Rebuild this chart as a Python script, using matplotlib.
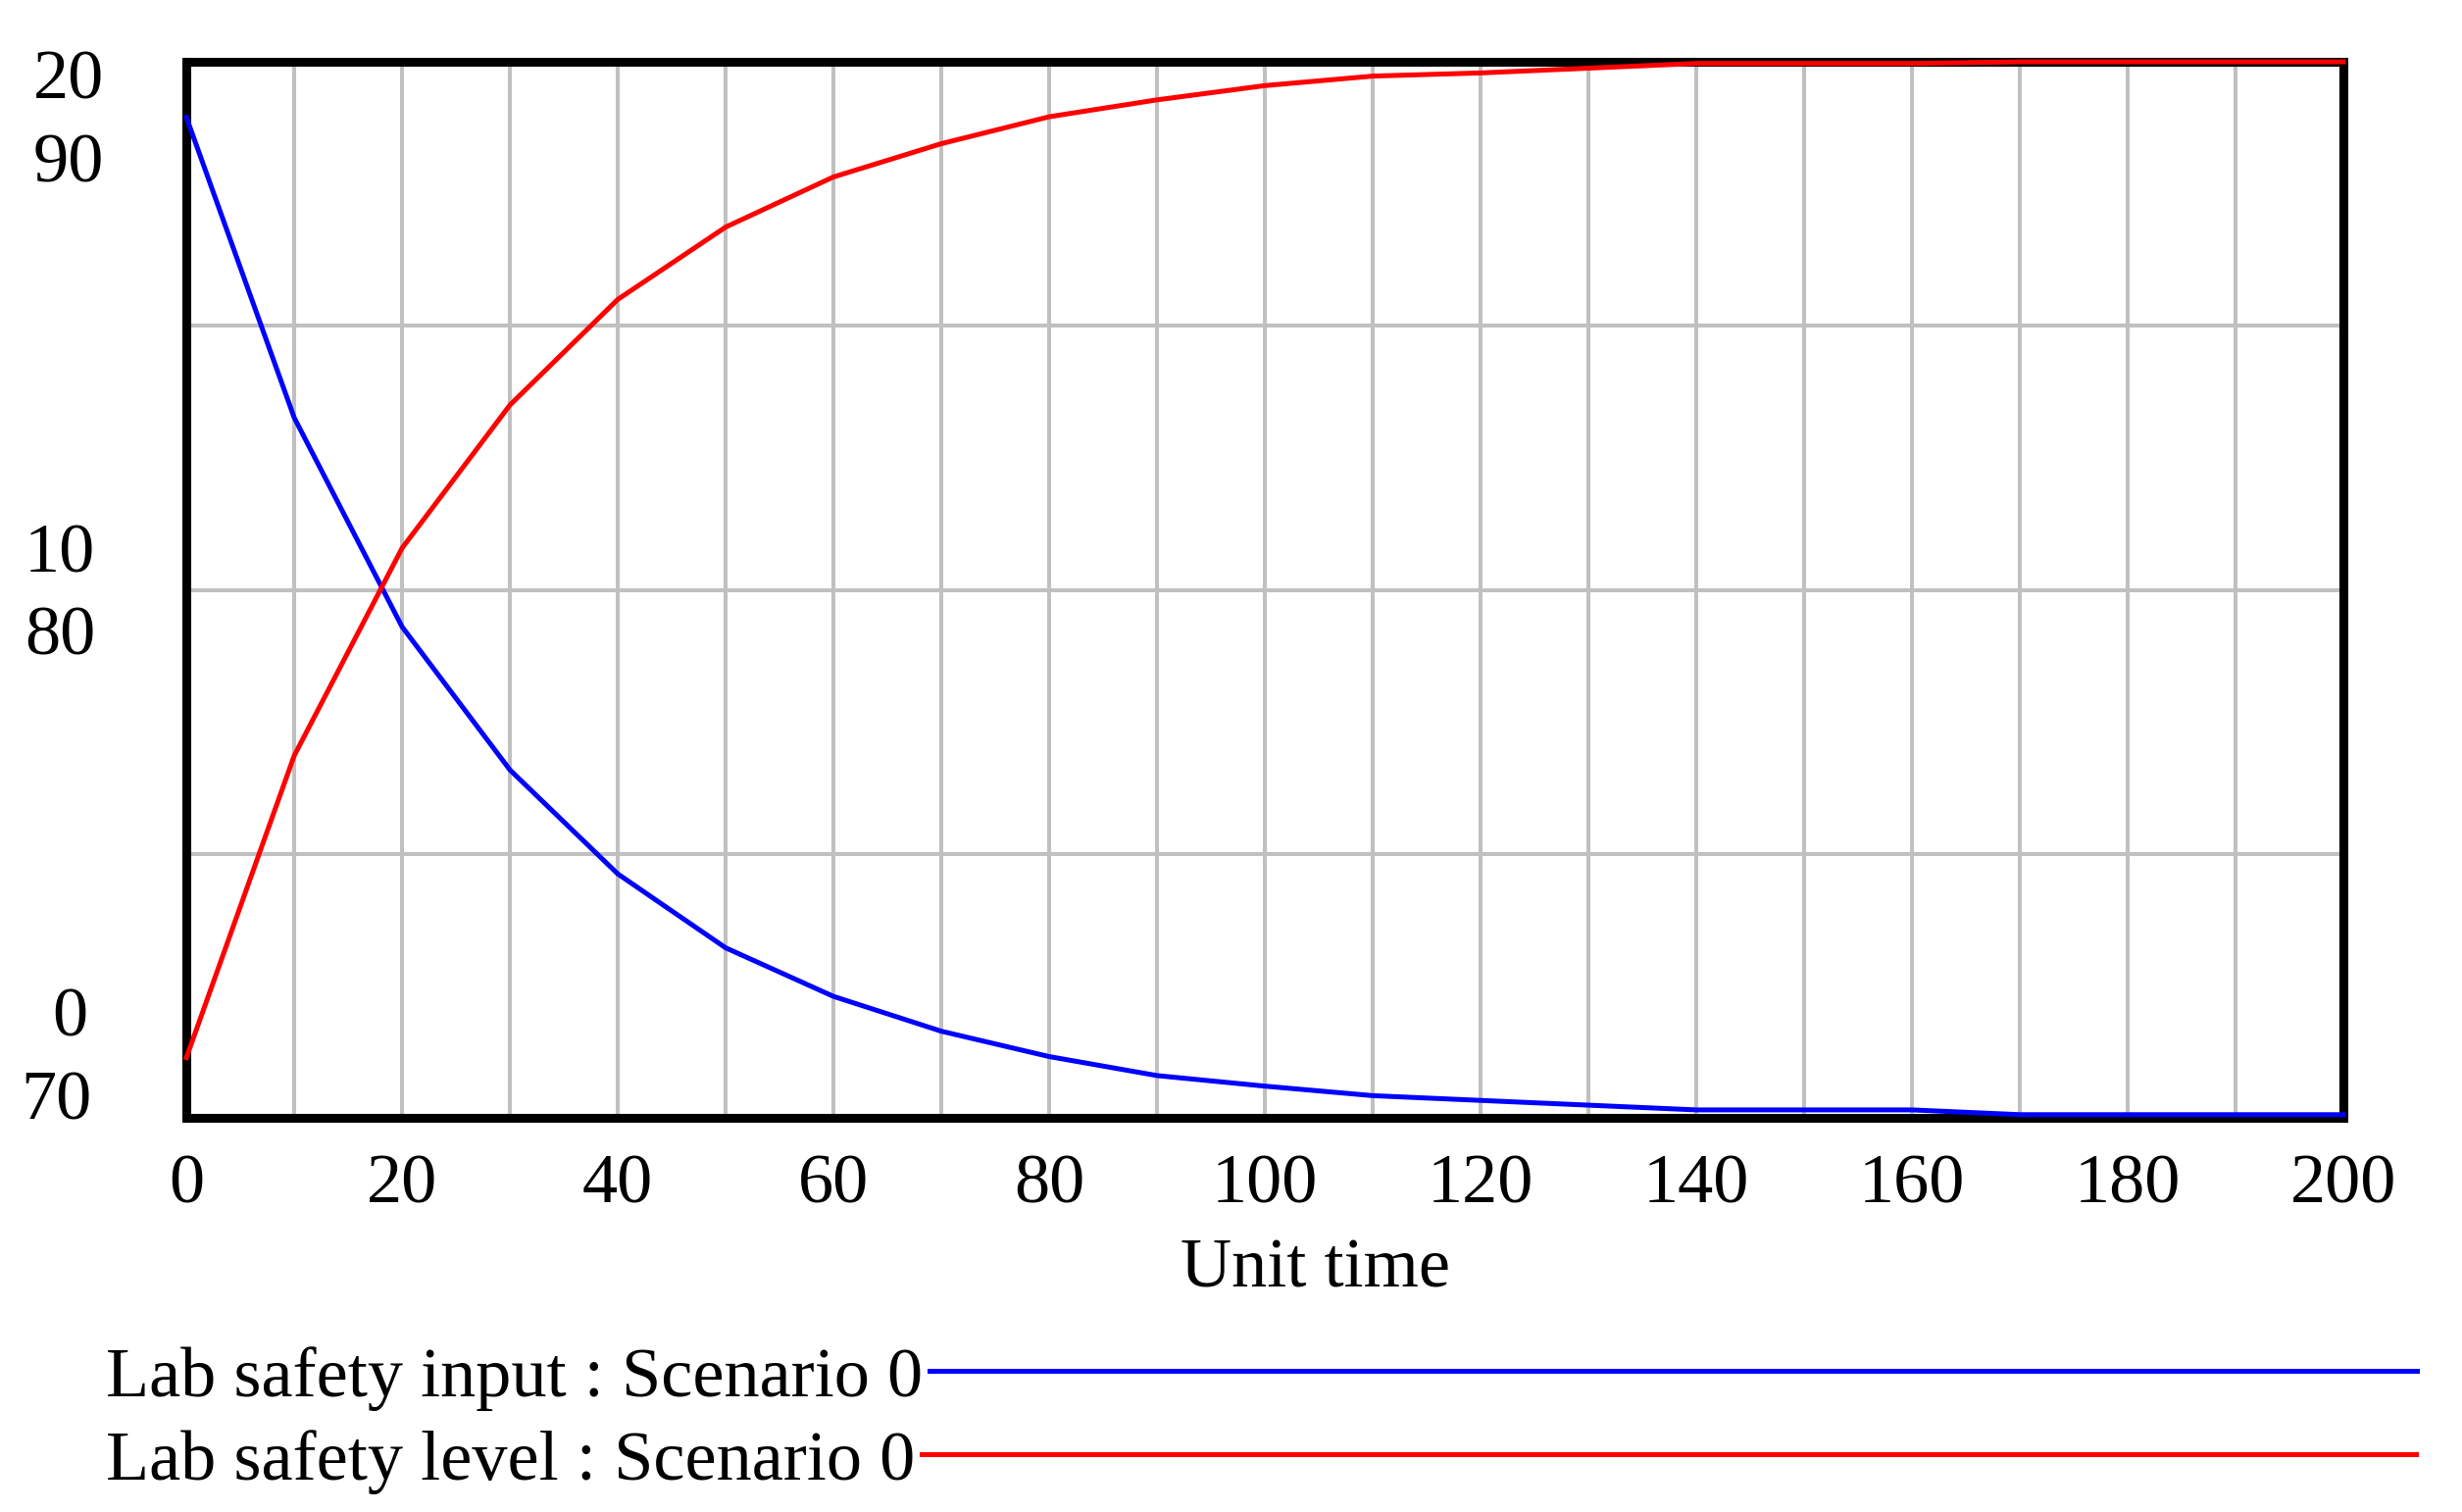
import matplotlib
matplotlib.use("Agg")
import matplotlib.pyplot as plt
import matplotlib.transforms as mtransforms

# Vensim-style run output, saved every 10 time units
TIME = list(range(0, 201, 10))
SAFETY_INPUT = [18.95, 13.26, 9.30, 6.59, 4.62, 3.22, 2.30, 1.64, 1.16, 0.80, 0.60,
                0.42, 0.33, 0.24, 0.15, 0.15, 0.15, 0.06, 0.06, 0.06, 0.06]
SAFETY_LEVEL = [71.14, 76.86, 80.79, 83.50, 85.50, 86.87, 87.82, 88.45, 88.96, 89.28, 89.55,
                89.73, 89.79, 89.88, 89.97, 89.97, 89.97, 90.0, 90.0, 90.0, 90.0]
INPUT_TICKS = [0, 10, 20]
LEVEL_TICKS = [70, 80, 90]
X_TICKS = list(range(0, 201, 20))
LABELS = ["Lab safety input : Scenario 0", "Lab safety level : Scenario 0"]

plt.rcParams["font.family"] = ["Liberation Serif", "DejaVu Serif"]
FS = 52
PX = 0.72  # points per pixel at dpi=100

fig = plt.figure(figsize=(25.11, 15.42), dpi=100)
ax = fig.add_axes([0.0757, 0.2607, 0.9518 - 0.0757, 0.9591 - 0.2607])
ax2 = ax.twinx()

ax.set_xlim(0, 200)
ax.set_ylim(0, 20)
ax2.set_ylim(70, 90)

ax.set_xticks(X_TICKS)
ax.set_xticklabels([str(t) for t in X_TICKS], fontsize=FS)
ax.set_xticks(range(0, 201, 10), minor=True)
ax.set_yticks([5, 10, 15])
ax.set_yticklabels([])
ax2.set_yticks([])
ax.tick_params(axis="both", which="both", length=0, pad=26.5)
ax.grid(True, which="both", color="#c0c0c0", lw=2.9)
ax.set_axisbelow(True)
for sp in ax.spines.values():
    sp.set_linewidth(6.5)
    sp.set_color("black")
for sp in ax2.spines.values():
    sp.set_visible(False)

l1, = ax.plot(TIME, SAFETY_INPUT, color="#0000ff", lw=3.6, zorder=3, clip_on=False)
l2, = ax2.plot(TIME, SAFETY_LEVEL, color="#ff0000", lw=3.6, zorder=3, clip_on=False)

# stacked y labels for the two scales, left of the frame
trans = mtransforms.blended_transform_factory(ax.transAxes, ax.transAxes)
pos = [0.0, 0.5, 1.0]
# (dx, dy) in pixels for the input label and the level label
offs_in = [(-101, 101), (-93, 36), (-84, -20)]
offs_lev = [(-97, 16), (-93, -48), (-84, -105)]
for frac, oi, ol, tin, tlev in zip(pos, offs_in, offs_lev, INPUT_TICKS, LEVEL_TICKS):
    ax.annotate(str(tin), xy=(0, frac), xycoords=trans, xytext=(oi[0] * PX, oi[1] * PX),
                textcoords="offset points", ha="right", va="center", fontsize=FS)
    ax.annotate(str(tlev), xy=(0, frac), xycoords=trans, xytext=(ol[0] * PX, ol[1] * PX),
                textcoords="offset points", ha="right", va="center", fontsize=FS)

fig.text(1342 / 2511, 1 - 1295 / 1542, "Unit time", ha="center", va="center", fontsize=FS)

# legend rows: text first, then a long line sample
for i, (h, lab, hl) in enumerate(zip([l1, l2], LABELS, [21.0, 21.1])):
    leg = fig.legend([h], [lab], loc="upper left",
                     bbox_to_anchor=(79 / 2511, 1 - (1344 + i * 85) / 1542),
                     frameon=False, markerfirst=False, handlelength=hl,
                     handletextpad=0.1, fontsize=FS, borderaxespad=0)

fig.savefig("out.png", dpi=100)
